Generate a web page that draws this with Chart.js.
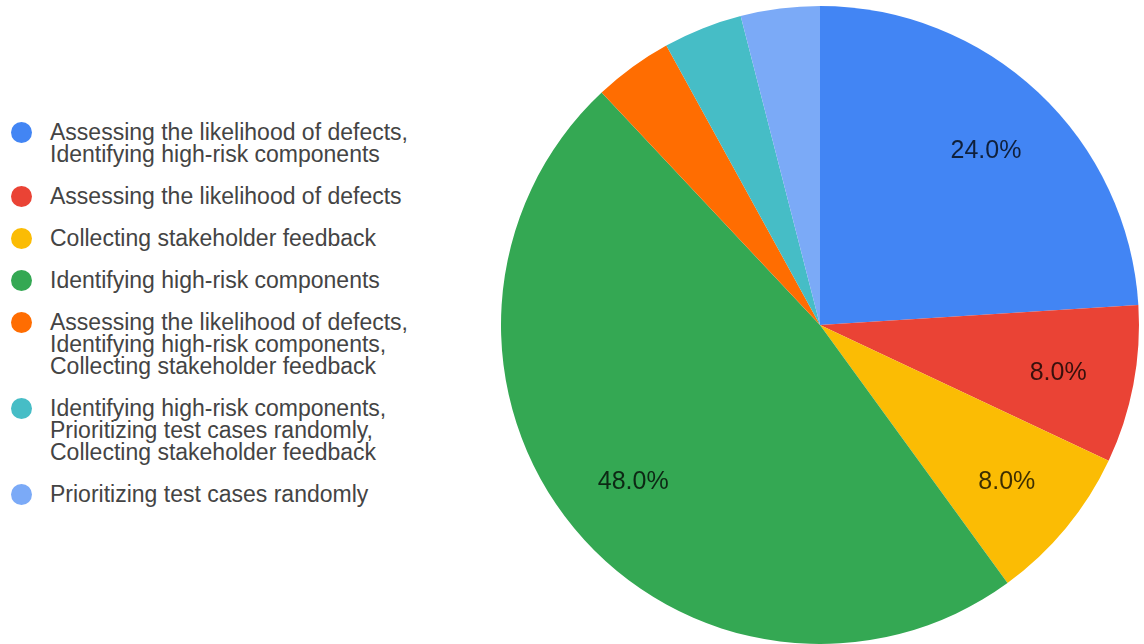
<!DOCTYPE html>
<html>
<head>
<meta charset="utf-8">
<title>Test prioritization approaches</title>
<script src="https://cdn.jsdelivr.net/npm/chart.js@4.4.1/dist/chart.umd.min.js"></script>
<style>
  html, body { margin: 0; padding: 0; background: #ffffff; }
  #wrap { position: relative; width: 1144px; height: 644px; overflow: hidden; }
  #pie { position: absolute; left: 0; top: 0; }
  #legend {
    position: absolute; left: 0; top: 121px; margin: 0; padding: 0; list-style: none;
    font-family: "Liberation Sans", Arial, sans-serif; font-size: 23px; line-height: 22px; color: #444;
  }
  #legend li { position: relative; padding-left: 50px; margin-bottom: 20px; white-space: nowrap; }
  #legend .dot {
    position: absolute; left: 11px; top: 0.5px; width: 21px; height: 21px; border-radius: 50%;
  }
</style>
</head>
<body>
<div id="wrap">
  <ul id="legend"></ul>
  <canvas id="pie" width="1144" height="644"></canvas>
</div>
<script>
// Answer categories (each may span several lines in the legend)
const categories = [
  ["Assessing the likelihood of defects,", "Identifying high-risk components"],
  ["Assessing the likelihood of defects"],
  ["Collecting stakeholder feedback"],
  ["Identifying high-risk components"],
  ["Assessing the likelihood of defects,", "Identifying high-risk components,", "Collecting stakeholder feedback"],
  ["Identifying high-risk components,", "Prioritizing test cases randomly,", "Collecting stakeholder feedback"],
  ["Prioritizing test cases randomly"]
];

// Share of responses, in percent
const shares = [24, 8, 8, 48, 4, 4, 4];

const sliceColors = ["#4285F4", "#EA4335", "#FBBC04", "#34A853", "#FF6D01", "#46BDC6", "#7BAAF7"];

// Slices smaller than this are drawn without a percentage label
const minLabelShare = 5;

// HTML legend
const legendEl = document.getElementById("legend");
categories.forEach((lines, i) => {
  const li = document.createElement("li");
  const dot = document.createElement("span");
  dot.className = "dot";
  dot.style.background = sliceColors[i];
  li.appendChild(dot);
  lines.forEach((line, j) => {
    if (j > 0) li.appendChild(document.createElement("br"));
    li.appendChild(document.createTextNode(line));
  });
  legendEl.appendChild(li);
});

// Percentage labels drawn inside the slices
const sliceLabels = {
  id: "sliceLabels",
  afterDatasetsDraw(chart) {
    const ctx = chart.ctx;
    const meta = chart.getDatasetMeta(0);
    const values = chart.data.datasets[0].data;
    const total = values.reduce((a, b) => a + b, 0);
    ctx.save();
    ctx.font = '25px "Liberation Sans", Arial, sans-serif';
    ctx.fillStyle = "rgba(0,0,0,0.76)";
    ctx.textAlign = "center";
    ctx.textBaseline = "middle";
    meta.data.forEach((arc, i) => {
      const pct = values[i] / total * 100;
      if (pct < minLabelShare) return;
      const p = arc.getProps(["x", "y", "startAngle", "endAngle", "outerRadius"], true);
      const mid = (p.startAngle + p.endAngle) / 2;
      const d = p.outerRadius * 0.76;
      ctx.fillText(pct.toFixed(1) + "%", p.x + Math.cos(mid) * d, p.y + Math.sin(mid) * d + 3);
    });
    ctx.restore();
  }
};

new Chart(document.getElementById("pie"), {
  type: "pie",
  data: {
    labels: categories.map(l => l.join(" ")),
    datasets: [{
      data: shares,
      backgroundColor: sliceColors,
      borderWidth: 0,
      hoverOffset: 0,
      offset: 0
    }]
  },
  options: {
    responsive: false,
    animation: false,
    events: [],
    layout: { padding: { left: 501, right: 5, top: 6, bottom: 0 } },
    plugins: {
      legend: { display: false },
      tooltip: { enabled: false }
    }
  },
  plugins: [sliceLabels]
});
</script>
</body>
</html>
